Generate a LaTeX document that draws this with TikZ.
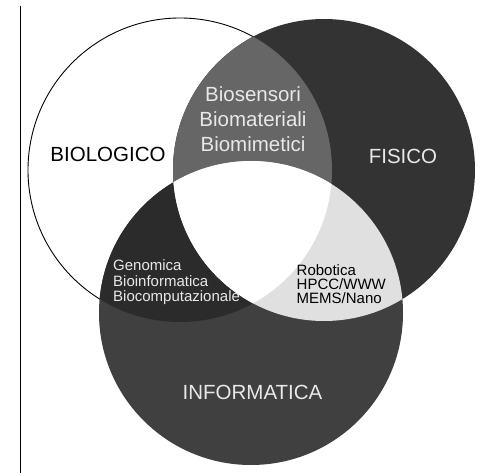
\documentclass[tikz,border=0pt]{standalone}
\usepackage{fontspec}
\setmainfont{Liberation Sans}
\begin{document}
\begin{tikzpicture}[x=1pt,y=-1pt,
  big/.style={font=\fontsize{20.5}{25}\selectfont, inner sep=0pt, align=center},
  small/.style={font=\fontsize{15}{15.5}\selectfont, inner sep=0pt, align=left},
  tiny/.style={font=\fontsize{15}{13.8}\selectfont, inner sep=0pt, align=left}]
\definecolor{fisc}{HTML}{333333}
\definecolor{infc}{HTML}{404040}
\definecolor{biofis}{HTML}{666666}
\definecolor{bioinf}{HTML}{2B2B2B}
\definecolor{fisinf}{HTML}{E0E0E0}
\definecolor{lighttext}{HTML}{E8E8E8}
\useasboundingbox (0,0) rectangle (485,473);
\fill[white] (0,0) rectangle (485,473);
\coordinate (top) at (20.5,6);
\coordinate (bot) at (20.5,473);
\draw[line width=1.5pt] (top) -- (bot);
\def\bio{(180,170) circle (152)}
\def\fis{(324,170) circle (151)}
\def\inf{(251,313) circle (152)}
\filldraw[fill=white, draw=black, line width=0.9pt] \bio;
\fill[fisc] \fis;
\fill[infc] \inf;
\begin{scope}\clip \bio; \fill[biofis] \fis; \end{scope}
\begin{scope}\clip \bio; \fill[bioinf] \inf; \end{scope}
\begin{scope}\clip \fis; \fill[fisinf] \inf; \end{scope}
\begin{scope}\clip \bio; \clip \fis; \fill[white] \inf; \end{scope}
\node[big, text=black] (biol) at (108,154) {BIOLOGICO};
\node[big, text=lighttext] (fisi) at (403,156) {FISICO};
\node[big, text=lighttext] (info) at (252.5,392.5) {INFORMATICA};
\node[big, text=lighttext, anchor=base] (bfs) at (253,151.7) {Biosensori\\Biomateriali\\Biomimetici};
\node[small, text=lighttext, anchor=base west] (bif) at (113,301.7) {Genomica\\Bioinformatica\\Biocomputazionale};
\node[tiny, text=black, anchor=base west] (fin) at (296.5,303.3) {Robotica\\HPCC/WWW\\MEMS/Nano};
\end{tikzpicture}
\end{document}
